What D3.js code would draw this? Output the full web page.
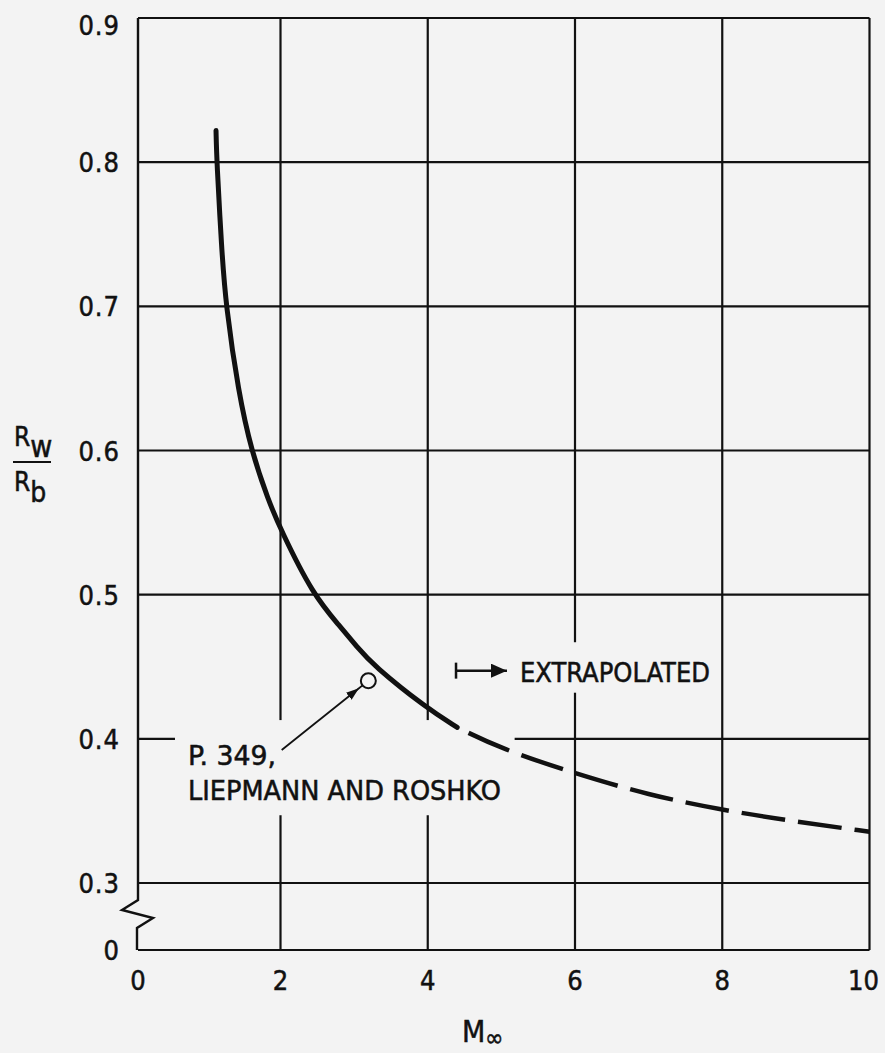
<!DOCTYPE html>
<html>
<head>
<meta charset="utf-8">
<script src="https://cdn.jsdelivr.net/npm/d3@7"></script>
<style>
  html, body { margin: 0; padding: 0; background: #f3f3f3; }
  svg text { font-family: "Liberation Sans Narrow", "DejaVu Sans Condensed", "Liberation Sans", sans-serif; fill: #111; stroke: #111; stroke-width: 0.5px; }
</style>
</head>
<body>
<div id="canvas"></div>
<script>
// Axis ticks
var mach_ticks = [0, 2, 4, 6, 8, 10];
var ratio_ticks = [0, 0.3, 0.4, 0.5, 0.6, 0.7, 0.8, 0.9];
var ratio_labels = ["0", "0.3", "0.4", "0.5", "0.6", "0.7", "0.8", "0.9"];

// Curve, solid part
var mach_solid = [1.095, 1.105, 1.175, 1.23, 1.41, 1.596, 1.825, 2.003, 2.44, 2.808, 3.036, 3.26, 3.98, 4.40];
var ratio_solid = [0.822, 0.801, 0.739, 0.702, 0.640, 0.599, 0.566, 0.545, 0.500, 0.478, 0.464, 0.451, 0.4215, 0.408];

// Curve, extrapolated part
var mach_dashed = [4.40, 5.0, 6.0, 7.0, 8.0, 9.0, 10.0];
var ratio_dashed = [0.408, 0.393, 0.376, 0.361, 0.3506, 0.3425, 0.3356];

// Reference point (Liepmann and Roshko, p. 349)
var ref_mach = [3.193];
var ref_ratio = [0.4403];

function redraw() {
  var canvas_w = 885;
  var canvas_h = 1053;
  var ink = "#111";
  var paper = "#f3f3f3";

  var canvas = d3.select("#canvas").append("svg")
    .attr("width", canvas_w)
    .attr("height", canvas_h);

  canvas.append("rect")
    .attr("width", canvas_w)
    .attr("height", canvas_h)
    .style("fill", paper);

  // Arrow heads
  var defs = canvas.append("svg:defs");
  defs.append("svg:marker")
    .attr("id", "arrow-end")
    .attr("refX", 16)
    .attr("refY", 7)
    .attr("markerWidth", 18)
    .attr("markerHeight", 14)
    .attr("markerUnits", "userSpaceOnUse")
    .attr("orient", "auto")
    .append("path")
    .attr("d", "M 0 0 16 7 0 14 z")
    .style("fill", ink);

  defs.append("svg:marker")
    .attr("id", "arrow-mid")
    .attr("refX", 13)
    .attr("refY", 4.5)
    .attr("markerWidth", 14)
    .attr("markerHeight", 9)
    .attr("markerUnits", "userSpaceOnUse")
    .attr("orient", "auto")
    .append("path")
    .attr("d", "M 0 0 13 4.5 0 9 z")
    .style("fill", ink);

  // Scales (y axis is broken between 0 and 0.3)
  var x = d3.scaleLinear().domain([0, 2, 10]).range([138, 280.5, 869.5]);
  var y = d3.scaleLinear().domain([0, 0.3, 0.9]).range([950, 883, 18]);

  // Horizontal grid lines
  canvas.selectAll(".hgrid")
    .data(ratio_ticks)
    .enter().append("line")
    .attr("x1", x(0))
    .attr("x2", x(10))
    .attr("y1", function(d) { return y(d); })
    .attr("y2", function(d) { return y(d); })
    .style("stroke", ink)
    .style("stroke-width", 2.2);

  // Vertical grid lines
  canvas.selectAll(".vgrid")
    .data(mach_ticks.slice(1))
    .enter().append("line")
    .attr("x1", function(d) { return x(d); })
    .attr("x2", function(d) { return x(d); })
    .attr("y1", y(0))
    .attr("y2", y(0.9))
    .style("stroke", ink)
    .style("stroke-width", 2.2);

  // Left axis with break symbol
  var x0 = x(0);
  var y03 = y(0.3);
  var axis_pts = [
    [x0, y(0.9)],
    [x0, y03 + 17],
    [x0 - 16, y03 + 27],
    [x0 + 15, y03 + 35],
    [x0 - 1, y03 + 45],
    [x0 - 1, y(0)]
  ];
  canvas.append("polyline")
    .attr("points", axis_pts)
    .style("fill", "none")
    .style("stroke", ink)
    .style("stroke-width", 2.4)
    .style("stroke-linejoin", "miter");

  // Paper showing through where the labels sit
  var knockouts = [
    [0.519, 5.18, 0.347, 0.413],
    [4.30, 7.90, 0.432, 0.467]
  ];
  canvas.selectAll(".knock")
    .data(knockouts)
    .enter().append("rect")
    .attr("x", function(d) { return x(d[0]); })
    .attr("width", function(d) { return x(d[1]) - x(d[0]); })
    .attr("y", function(d) { return y(d[3]); })
    .attr("height", function(d) { return y(d[2]) - y(d[3]); })
    .style("fill", paper);

  // Tick labels
  canvas.selectAll(".ylab")
    .data(ratio_ticks)
    .enter().append("text")
    .attr("x", 120)
    .attr("y", function(d) { return Math.max(y(d) + 10, 35); })
    .attr("text-anchor", "end")
    .style("font-size", "27px")
    .style("letter-spacing", "1px")
    .text(function(d, i) { return ratio_labels[i]; });

  canvas.selectAll(".xlab")
    .data(mach_ticks)
    .enter().append("text")
    .attr("x", function(d) { return x(d) - (d === 10 ? 6 : 0); })
    .attr("y", 990)
    .attr("text-anchor", "middle")
    .style("font-size", "27px")
    .text(function(d) { return d; });

  // Axis titles
  var yt = canvas.append("g");
  var num = yt.append("text").attr("x", 14).attr("y", 446).style("font-size", "26px");
  num.append("tspan").text("R");
  num.append("tspan").attr("dy", 11).style("font-size", "30px").text("w");
  yt.append("line")
    .attr("x1", 13).attr("x2", 51)
    .attr("y1", 462).attr("y2", 462)
    .style("stroke", ink)
    .style("stroke-width", 2.2);
  var den = yt.append("text").attr("x", 14).attr("y", 491).style("font-size", "26px");
  den.append("tspan").text("R");
  den.append("tspan").attr("dy", 11).style("font-size", "28px").text("b");

  var xt = canvas.append("text").attr("x", 462).attr("y", 1042).style("font-size", "30px");
  xt.append("tspan").text("M");
  xt.append("tspan").attr("dy", 4).style("font-size", "24px").text("\u221e");

  // Curve
  var line = d3.line()
    .x(function(d) { return x(d[0]); })
    .y(function(d) { return y(d[1]); })
    .curve(d3.curveBasis);

  canvas.append("path")
    .datum(d3.zip(mach_solid, ratio_solid))
    .attr("d", line)
    .style("fill", "none")
    .style("stroke", ink)
    .style("stroke-width", 5)
    .style("stroke-linecap", "round");

  canvas.append("path")
    .datum(d3.zip(mach_dashed, ratio_dashed))
    .attr("d", line)
    .style("fill", "none")
    .style("stroke", ink)
    .style("stroke-width", 4.5)
    .style("stroke-dasharray", "44,13")
    .style("stroke-dashoffset", 44);

  // Reference point with leader
  var cx = x(ref_mach[0]);
  var cy = y(ref_ratio[0]);
  var r = 7.5;
  var sx = x(2.016);
  var sy = y(0.3923);
  var len = Math.hypot(cx - sx, cy - sy);
  var ux = (cx - sx) / len;
  var uy = (cy - sy) / len;
  canvas.append("polyline")
    .attr("points", [[sx, sy], [cx - ux * 12, cy - uy * 12], [cx - ux * r, cy - uy * r]])
    .attr("marker-mid", "url(#arrow-mid)")
    .style("fill", "none")
    .style("stroke", ink)
    .style("stroke-width", 1.8);

  canvas.selectAll(".ref")
    .data(d3.zip(ref_mach, ref_ratio))
    .enter().append("circle")
    .attr("cx", function(d) { return x(d[0]); })
    .attr("cy", function(d) { return y(d[1]); })
    .attr("r", r)
    .style("fill", paper)
    .style("stroke", ink)
    .style("stroke-width", 2);

  canvas.append("text")
    .attr("x", x(0.702)).attr("y", y(0.3818))
    .attr("textLength", 88).attr("lengthAdjust", "spacingAndGlyphs")
    .style("font-size", "27px")
    .text("P. 349,");
  canvas.append("text")
    .attr("x", x(0.702)).attr("y", y(0.3576))
    .attr("textLength", 313).attr("lengthAdjust", "spacingAndGlyphs")
    .style("font-size", "27px")
    .text("LIEPMANN AND ROSHKO");

  // Extrapolated marker
  var ay = y(0.4473);
  canvas.append("line")
    .attr("x1", x(4.384)).attr("x2", x(4.384))
    .attr("y1", ay - 8).attr("y2", ay + 8)
    .style("stroke", ink)
    .style("stroke-width", 2.5);
  canvas.append("line")
    .attr("x1", x(4.384)).attr("x2", x(5.076))
    .attr("y1", ay).attr("y2", ay)
    .attr("marker-end", "url(#arrow-end)")
    .style("stroke", ink)
    .style("stroke-width", 2.5);
  canvas.append("text")
    .attr("x", x(5.253)).attr("y", y(0.4396))
    .attr("textLength", 190).attr("lengthAdjust", "spacingAndGlyphs")
    .style("font-size", "27px")
    .text("EXTRAPOLATED");
}

redraw();
</script>
</body>
</html>
